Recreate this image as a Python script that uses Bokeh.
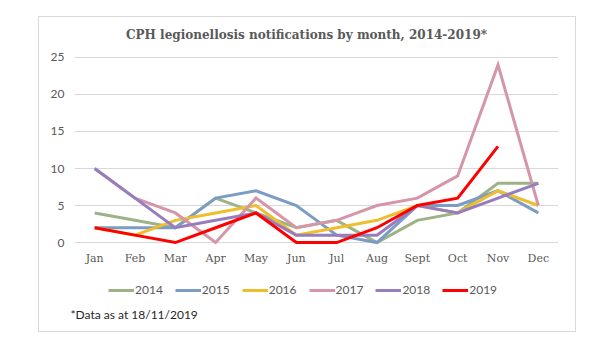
from bokeh.plotting import figure
from bokeh.models import Range1d, Legend, LegendItem, Title, Label, Spacer, SingleIntervalTicker
from bokeh.layouts import column, row
from bokeh.embed import file_html
from bokeh.resources import INLINE

months = ["Jan", "Feb", "Mar", "Apr", "May", "Jun", "Jul", "Aug", "Sept", "Oct", "Nov", "Dec"]
y2014 = [4, 3, 2, 6, 4, 2, 3, 0, 3, 4, 8, 8]
y2015 = [2, 2, 2, 6, 7, 5, 1, 0, 5, 5, 7, 4]
y2016 = [2, 1, 3, 4, 5, 1, 2, 3, 5, 4, 7, 5]
y2017 = [10, 6, 4, 0, 6, 2, 3, 5, 6, 9, 24, 5]
y2018 = [10, 6, 2, 3, 4, 1, 1, 1, 5, 4, 6, 8]
y2019 = [2, 1, 0, 2, 4, 0, 0, 2, 5, 6, 13]
series_names = ["2014", "2015", "2016", "2017", "2018", "2019"]
series_values = [y2014, y2015, y2016, y2017, y2018, y2019]
colors = ["#9CB386", "#7B9CC5", "#EEBE2C", "#D596AA", "#977DBE", "#FF0000"]
title_text = "CPH legionellosis notifications by month, 2014-2019*"
footnote = "*Data as at 18/11/2019"

TXT = "#595959"


def blank(height, y_range, bottom=0):
    f = figure(width=536, height=height, x_range=months, y_range=y_range,
               output_backend="svg", toolbar_location=None, x_axis_type=None, y_axis_type=None,
               min_border_left=35, min_border_right=17, min_border_top=0, min_border_bottom=bottom)
    f.outline_line_color = None
    f.grid.grid_line_color = None
    f.background_fill_color = "white"
    f.border_fill_color = "white"
    return f


# top strip with the chart title
p0 = blank(31, Range1d(0, 1))
p0.add_layout(Label(x=232, y=14, x_units="screen", y_units="screen", text=title_text,
                    text_font="DejaVu Serif", text_font_style="bold", text_font_size="12px",
                    text_color=TXT, text_align="center", text_baseline="middle"))

p = figure(width=536, height=224, x_range=months, y_range=Range1d(-0.4, 25.4),
           output_backend="svg", toolbar_location=None,
           min_border_left=35, min_border_right=17, min_border_top=6, min_border_bottom=27)
p.x_range.range_padding = 0
p.outline_line_color = None
p.background_fill_color = "white"
p.border_fill_color = "white"

p.xgrid.grid_line_color = None
p.ygrid.grid_line_color = "#D9D9D9"
p.ygrid.grid_line_width = 1
p.yaxis.ticker = SingleIntervalTicker(interval=5)
for ax in (p.xaxis[0], p.yaxis[0]):
    ax.axis_line_color = None
    ax.major_tick_line_color = None
    ax.minor_tick_line_color = None
    ax.major_label_text_color = TXT
p.yaxis.major_label_text_font = "Lato"
p.yaxis.major_label_text_font_size = "12px"
p.yaxis.major_label_standoff = 4
p.xaxis.major_label_text_font = "DejaVu Serif"
p.xaxis.major_label_text_font_size = "11px"
p.xaxis.major_label_standoff = 0

for vals, col in zip(series_values, colors):
    p.line(months[:len(vals)], vals, line_color=col, line_width=3, line_join="miter")

# lower strip holding the legend and footnote (series kept out of its view range)
p2 = blank(59, Range1d(1000, 1001), bottom=29)
items = []
for name, vals, col in zip(series_names, series_values, colors):
    r = p2.line(months[:len(vals)], vals, line_color=col, line_width=3)
    items.append(LegendItem(label=name, renderers=[r]))

legend = Legend(items=items, orientation="horizontal", location=(34, 5),
                glyph_width=26, glyph_height=12, label_standoff=1, spacing=12,
                padding=0, margin=0, border_line_color=None, background_fill_alpha=0,
                label_text_font="Lato", label_text_font_size="12px", label_text_color=TXT)
p2.add_layout(legend, "center")

p2.add_layout(Title(text=footnote, align="left", offset=-4, standoff=4,
                    text_font="Lato", text_font_size="12px", text_font_style="normal",
                    text_color="#262626"), "below")

box = column(p0, p, p2, spacing=0, styles={"border": "1px solid #D9D9D9"})
layout = column(Spacer(height=16), row(Spacer(width=38), box))
open("out.html", "w").write(file_html(layout, INLINE))
